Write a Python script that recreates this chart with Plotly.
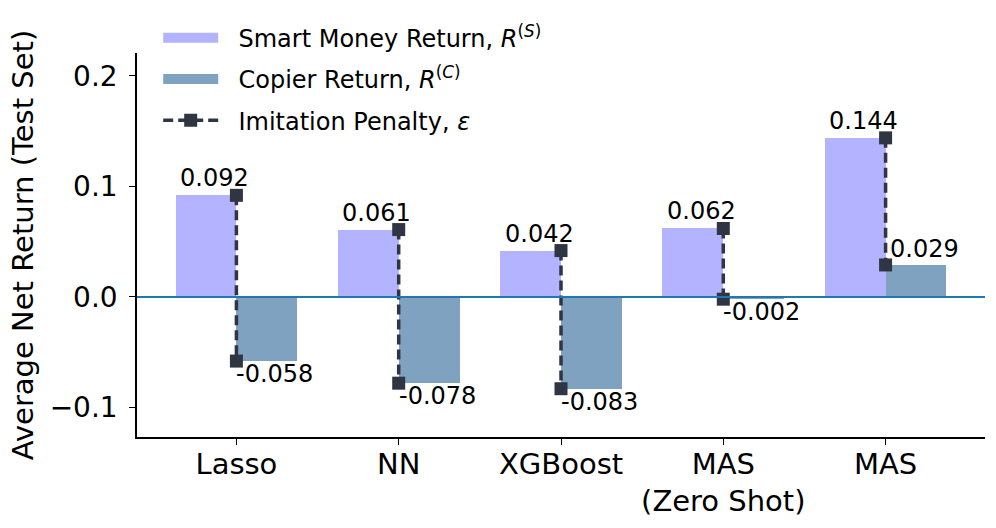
import plotly.graph_objects as go

categories = ["Lasso", "NN", "XGBoost", "MAS<br>(Zero Shot)", "MAS"]
smart_money = [0.092, 0.061, 0.042, 0.062, 0.144]
copier = [-0.058, -0.078, -0.083, -0.002, 0.029]
y_ticks = [-0.1, 0.0, 0.1, 0.2]

SMART_C = "#b3b3ff"
COPIER_C = "#7fa2c1"
PEN_C = "#2f3542"
FONT = "DejaVu Sans"
BW = 0.375

xs = list(range(len(categories)))
PAD = "\u00a0\u00a0"
smart_name = PAD + "Smart Money Return, <i>R</i><sup>(<i>S</i>)</sup>"
copier_name = PAD + "Copier Return, <i>R</i><sup>(<i>C</i>)</sup>"
pen_name = PAD + "Imitation Penalty, <i>ε</i>"

fig = go.Figure()
fig.add_trace(go.Bar(
    x=xs, y=smart_money, width=BW, offset=-BW,
    marker=dict(color=SMART_C, line=dict(width=0)),
    name=smart_name, showlegend=False,
))
fig.add_trace(go.Bar(
    x=xs, y=copier, width=BW, offset=0,
    marker=dict(color=COPIER_C, line=dict(width=0)),
    name=copier_name, showlegend=False,
))
# legend patches (wide swatches like the reference)
fig.add_trace(go.Scatter(x=[None], y=[None], mode="lines",
                         line=dict(color=SMART_C, width=16),
                         name=smart_name, legendgroup="a"))
fig.add_trace(go.Scatter(x=[None], y=[None], mode="lines",
                         line=dict(color=COPIER_C, width=16),
                         name=copier_name, legendgroup="b"))

px_, py_ = [], []
for i, (s, c) in enumerate(zip(smart_money, copier)):
    px_ += [i, i, None]
    py_ += [s, c, None]
fig.add_trace(go.Scatter(
    x=px_, y=py_, mode="lines+markers",
    line=dict(color=PEN_C, width=3.5, dash="10px,5px"),
    marker=dict(symbol="square", size=13, color=PEN_C),
    name=pen_name, legendgroup="c",
))

fig.add_hline(y=0, line=dict(color="#1f77b4", width=2), layer="above")

for i, (s, c) in enumerate(zip(smart_money, copier)):
    fig.add_annotation(x=i, y=s, text=f"{s:.3f}", showarrow=False,
                       xanchor="center", yanchor="bottom", xshift=-22, yshift=1,
                       font=dict(family=FONT, size=24, color="black"))
    if c >= 0:
        fig.add_annotation(x=i, y=c, text=f"{c:.3f}", showarrow=False,
                           xanchor="left", yanchor="bottom", xshift=2, yshift=0,
                           font=dict(family=FONT, size=24, color="black"))
    else:
        fig.add_annotation(x=i, y=c, text=f"{c:.3f}", showarrow=False,
                           xanchor="left", yanchor="top", xshift=-2, yshift=3,
                           font=dict(family=FONT, size=24, color="black"))

fig.update_layout(
    width=996, height=528,
    margin=dict(l=137, r=11, t=53, b=91, autoexpand=False),
    paper_bgcolor="white", plot_bgcolor="white",
    barmode="overlay", bargap=0,
    font=dict(family=FONT, color="black"),
    showlegend=True,
    legend=dict(x=0.025, y=1.097, xanchor="left", yanchor="top",
                font=dict(family=FONT, size=24, color="black"),
                bgcolor="rgba(0,0,0,0)", tracegroupgap=7, itemwidth=55),
)
fig.update_xaxes(
    range=[-0.6125, 4.6125], tickvals=xs, ticktext=categories,
    showline=True, linecolor="black", linewidth=1.5, mirror=False,
    ticks="outside", ticklen=6, tickwidth=1.2, tickcolor="black",
    tickfont=dict(family=FONT, size=29, color="black"),
    ticklabelstandoff=-6,
    showgrid=False, zeroline=False, automargin=False,
)
fig.update_yaxes(
    range=[-0.1267, 0.2208], tickvals=y_ticks, tickformat=".1f",
    showline=True, linecolor="black", linewidth=1.5, mirror=False,
    ticks="outside", ticklen=6, tickwidth=1.2, tickcolor="black",
    tickfont=dict(family=FONT, size=28, color="black"),
    ticklabelstandoff=6,
    showgrid=False, zeroline=False, automargin=False,
    title=dict(text="Average Net Return (Test Set)", standoff=8,
               font=dict(family=FONT, size=29, color="black")),
)

fig.write_html("out.html", config={"displayModeBar": False},
               post_script="document.body.style.margin='0';document.body.style.overflow='hidden';")
